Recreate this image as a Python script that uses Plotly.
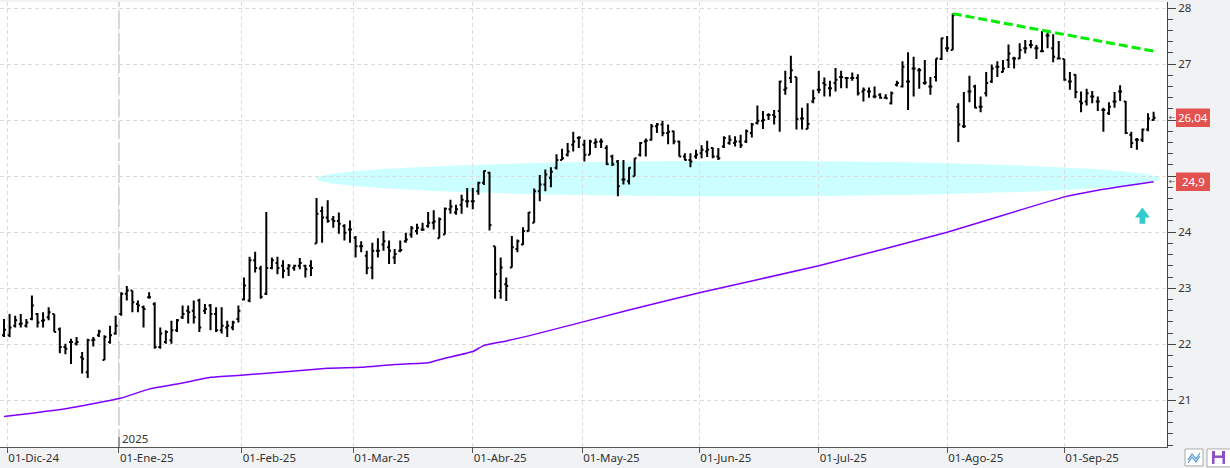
import pandas as pd
import plotly.graph_objects as go

# ---------------- data ----------------
holidays = ["2024-12-25", "2024-12-26", "2025-01-01", "2025-04-18", "2025-04-21", "2025-05-01"]
dates = [d.strftime("%Y-%m-%d") for d in
         pd.bdate_range("2024-11-29", "2025-09-23", freq="C", holidays=holidays)]

open_ = [
    22.16, 22.16, 22.33, 22.36, 22.33, 22.45, 22.54, 22.42, 22.48, 22.54,
    22.27, 21.95, 22.04, 22.01, 21.77, 21.50, 22.07, 22.16, 21.72, 22.04,
    22.19, 22.54, 22.90, 22.96, 22.72, 22.66, 22.84, 22.72, 21.95, 22.04,
    22.07, 22.25, 22.48, 22.60, 22.60, 22.78, 22.60, 22.69, 22.54, 22.25,
    22.30, 22.30, 22.45, 22.80, 22.78, 23.50, 23.35, 22.90, 23.36, 23.45,
    23.40, 23.35, 23.36, 23.40, 23.40, 23.40, 23.80, 24.38, 24.26, 24.23,
    24.20, 24.11, 24.05, 23.90, 23.75, 23.58, 23.37, 23.67, 23.78, 23.73,
    23.55, 23.67, 23.84, 23.96, 24.02, 24.05, 24.11, 24.17, 23.89, 23.96,
    24.41, 24.35, 24.49, 24.55, 24.55, 24.73, 24.88, 25.06, 23.75, 22.95,
    23.07, 23.37, 23.70, 23.78, 24.02, 24.17, 24.73, 24.85, 24.97, 25.15,
    25.29, 25.38, 25.56, 25.68, 25.56, 25.38, 25.59, 25.62, 25.50, 25.35,
    25.26, 24.94, 24.91, 25.00, 25.38, 25.62, 25.65, 25.89, 25.92, 25.77,
    25.80, 25.62, 25.35, 25.29, 25.35, 25.41, 25.44, 25.50, 25.35, 25.53,
    25.59, 25.59, 25.62, 25.62, 25.77, 25.95, 25.99, 26.09, 26.09, 26.16,
    26.54, 26.75, 26.77, 26.03, 25.84, 26.33, 26.54, 26.66, 26.57, 26.66,
    26.77, 26.75, 26.75, 26.75, 26.51, 26.51, 26.42, 26.45, 26.40, 26.30,
    26.63, 26.60, 26.69, 26.92, 26.89, 26.66, 26.60, 26.77, 27.09, 27.28,
    27.25, 26.24, 25.89, 26.51, 26.60, 26.24, 26.48, 26.69, 26.95, 26.86,
    27.07, 27.10, 27.10, 27.28, 27.34, 27.28, 27.23, 27.51, 27.28, 27.10,
    27.09, 26.69, 26.81, 26.33, 26.33, 26.42, 26.33, 26.18, 26.12, 26.33,
    26.51, 26.33, 25.74, 25.65, 25.65, 25.83, 26.00,
]
high = [
    22.45, 22.54, 22.51, 22.54, 22.45, 22.87, 22.56, 22.57, 22.66, 22.54,
    22.30, 22.01, 22.10, 22.13, 21.86, 22.10, 22.13, 22.26, 22.16, 22.33,
    22.51, 22.93, 23.04, 22.96, 22.78, 22.69, 22.93, 22.75, 22.30, 22.25,
    22.42, 22.45, 22.69, 22.69, 22.78, 22.81, 22.72, 22.72, 22.66, 22.66,
    22.42, 22.42, 22.69, 23.19, 23.56, 23.65, 23.40, 24.36, 23.55, 23.56,
    23.50, 23.43, 23.42, 23.54, 23.42, 23.50, 24.61, 24.46, 24.57, 24.29,
    24.35, 24.14, 24.21, 23.93, 23.84, 23.67, 23.81, 23.89, 24.02, 23.85,
    23.70, 23.85, 23.99, 24.11, 24.15, 24.17, 24.36, 24.39, 24.26, 24.44,
    24.58, 24.49, 24.67, 24.79, 24.79, 24.90, 25.10, 25.08, 23.75, 23.55,
    23.19, 23.93, 23.87, 24.09, 24.36, 24.78, 25.02, 25.12, 25.16, 25.39,
    25.49, 25.59, 25.79, 25.71, 25.65, 25.65, 25.67, 25.67, 25.55, 25.38,
    25.29, 25.29, 25.16, 25.32, 25.61, 25.67, 25.93, 25.95, 25.99, 25.92,
    25.81, 25.63, 25.41, 25.41, 25.47, 25.55, 25.63, 25.51, 25.50, 25.71,
    25.73, 25.71, 25.74, 25.83, 25.95, 26.26, 26.16, 26.12, 26.18, 26.70,
    26.88, 27.15, 26.77, 26.22, 26.30, 26.54, 26.88, 26.76, 26.70, 26.93,
    26.88, 26.76, 26.85, 26.82, 26.58, 26.58, 26.60, 26.48, 26.46, 26.51,
    26.70, 27.05, 27.21, 27.13, 26.93, 27.07, 26.77, 27.10, 27.47, 27.50,
    27.90, 26.30, 26.50, 26.79, 26.63, 26.42, 26.86, 26.99, 27.05, 27.07,
    27.35, 27.13, 27.37, 27.43, 27.43, 27.34, 27.59, 27.56, 27.53, 27.41,
    27.09, 26.86, 26.82, 26.51, 26.56, 26.52, 26.42, 26.22, 26.32, 26.50,
    26.62, 26.34, 25.79, 25.68, 25.85, 26.12, 26.15,
]
low = [
    22.13, 22.13, 22.30, 22.30, 22.30, 22.43, 22.30, 22.30, 22.43, 22.22,
    21.84, 21.82, 21.65, 21.98, 21.48, 21.40, 21.96, 22.13, 21.72, 22.01,
    22.17, 22.51, 22.78, 22.57, 22.57, 22.30, 22.81, 21.92, 21.92, 22.01,
    22.01, 22.22, 22.45, 22.37, 22.37, 22.22, 22.54, 22.25, 22.22, 22.19,
    22.13, 22.25, 22.39, 22.78, 22.75, 23.28, 22.81, 22.88, 23.34, 23.25,
    23.18, 23.22, 23.31, 23.34, 23.19, 23.22, 23.80, 23.81, 24.17, 24.08,
    23.97, 23.85, 23.81, 23.55, 23.64, 23.25, 23.16, 23.55, 23.67, 23.43,
    23.43, 23.64, 23.81, 23.90, 23.96, 24.02, 24.08, 24.05, 23.89, 23.96,
    24.33, 24.31, 24.33, 24.44, 24.41, 24.67, 24.84, 24.03, 22.81, 22.81,
    22.77, 23.37, 23.64, 23.77, 24.01, 24.17, 24.55, 24.73, 24.80, 25.12,
    25.29, 25.35, 25.44, 25.50, 25.26, 25.38, 25.50, 25.50, 25.20, 25.18,
    24.64, 24.85, 24.85, 25.00, 25.35, 25.35, 25.63, 25.77, 25.71, 25.57,
    25.57, 25.35, 25.28, 25.16, 25.31, 25.32, 25.34, 25.32, 25.29, 25.50,
    25.56, 25.53, 25.50, 25.59, 25.69, 25.92, 25.84, 26.00, 25.92, 25.79,
    26.45, 26.66, 25.83, 25.83, 25.84, 26.30, 26.48, 26.42, 26.42, 26.51,
    26.57, 26.57, 26.70, 26.44, 26.33, 26.40, 26.39, 26.38, 26.38, 26.28,
    26.60, 26.58, 26.18, 26.42, 26.56, 26.63, 26.45, 26.69, 27.07, 27.22,
    27.25, 25.61, 25.86, 26.32, 26.21, 26.14, 26.42, 26.66, 26.77, 26.85,
    26.93, 26.92, 27.09, 27.19, 27.28, 27.09, 27.21, 27.28, 27.03, 27.09,
    26.70, 26.54, 26.39, 26.14, 26.26, 26.30, 26.16, 25.79, 26.09, 26.22,
    26.34, 25.75, 25.50, 25.47, 25.61, 25.80, 25.99,
]
close = [
    22.26, 22.30, 22.43, 22.37, 22.39, 22.69, 22.39, 22.43, 22.57, 22.22,
    21.95, 21.92, 22.04, 22.04, 21.74, 22.07, 22.08, 22.23, 22.13, 22.16,
    22.33, 22.90, 22.96, 22.75, 22.69, 22.63, 22.84, 21.95, 22.19, 22.22,
    22.25, 22.43, 22.54, 22.57, 22.48, 22.30, 22.63, 22.54, 22.25, 22.33,
    22.33, 22.39, 22.60, 23.05, 23.50, 23.36, 22.85, 23.36, 23.50, 23.36,
    23.31, 23.40, 23.40, 23.45, 23.34, 23.36, 24.33, 24.26, 24.20, 24.20,
    24.15, 23.99, 24.05, 23.75, 23.75, 23.36, 23.67, 23.67, 23.84, 23.67,
    23.61, 23.68, 23.87, 24.07, 24.08, 24.05, 24.17, 24.19, 24.23, 24.42,
    24.46, 24.41, 24.58, 24.55, 24.55, 24.88, 25.09, 24.13, 23.25, 23.37,
    23.04, 23.73, 23.84, 24.02, 24.35, 24.73, 24.85, 25.03, 25.08, 25.29,
    25.32, 25.44, 25.62, 25.69, 25.38, 25.62, 25.61, 25.62, 25.21, 25.21,
    24.82, 24.94, 25.15, 25.32, 25.59, 25.63, 25.89, 25.92, 25.77, 25.79,
    25.62, 25.35, 25.29, 25.26, 25.38, 25.47, 25.47, 25.35, 25.32, 25.68,
    25.65, 25.62, 25.55, 25.80, 25.92, 25.99, 26.00, 26.09, 26.06, 26.69,
    26.57, 26.89, 26.02, 26.03, 25.93, 26.39, 26.54, 26.63, 26.57, 26.72,
    26.77, 26.75, 26.75, 26.48, 26.54, 26.51, 26.42, 26.40, 26.39, 26.48,
    26.66, 26.95, 26.69, 26.92, 26.89, 26.67, 26.60, 27.10, 27.46, 27.28,
    27.87, 25.92, 25.89, 26.51, 26.22, 26.24, 26.66, 26.92, 26.95, 26.92,
    27.19, 27.10, 27.25, 27.28, 27.34, 27.28, 27.23, 27.51, 27.13, 27.10,
    26.72, 26.69, 26.50, 26.30, 26.48, 26.42, 26.33, 26.18, 26.24, 26.33,
    26.51, 25.77, 25.59, 25.65, 25.83, 26.03, 26.04,
]

# 200-session moving average, read at sample dates
ma_dates = ["2024-11-29", "2024-12-16", "2025-01-02", "2025-01-09", "2025-01-17",
            "2025-01-24", "2025-02-03", "2025-02-24", "2025-03-04", "2025-03-12",
            "2025-03-20", "2025-03-25", "2025-04-01", "2025-04-03", "2025-04-09",
            "2025-04-15", "2025-05-14", "2025-06-02", "2025-07-01", "2025-08-01",
            "2025-09-01", "2025-09-09", "2025-09-23"]
ma_values = [20.71, 20.85, 21.04, 21.20, 21.31, 21.41, 21.45, 21.57, 21.59, 21.64,
             21.67, 21.75, 21.87, 21.98, 22.06, 22.15, 22.61, 22.93, 23.40, 24.00,
             24.63, 24.75, 24.90]

trend_dates = ["2025-08-04", "2025-09-23"]
trend_values = [27.90, 27.23]

month_starts = ["2024-12-01", "2025-01-01", "2025-02-01", "2025-03-01", "2025-04-01",
                "2025-05-01", "2025-06-01", "2025-07-01", "2025-08-01", "2025-09-01"]
month_labels = ["01-Dic-24", "01-Ene-25", "01-Feb-25", "01-Mar-25", "01-Abr-25",
                "01-May-25", "01-Jun-25", "01-Jul-25", "01-Ago-25", "01-Sep-25"]
year_label = "2025"
y_ticks = [21, 22, 23, 24, 25, 26, 27, 28]
# labels 25 and 26 sit under the price boxes in the reference
y_tick_text = ["21", "22", "23", "24", "", "", "27", "28"]

# ---------------- helpers ----------------
pos = {d: i for i, d in enumerate(dates)}
xi = list(range(len(dates)))


def month_pos(m):
    i = next(k for k, d in enumerate(dates) if d >= m)
    return i if dates[i] == m else i - 0.4


tick_pos = [month_pos(m) for m in month_starts]

FONT = "Noto Sans, DejaVu Sans, sans-serif"
PLOT_W, PLOT_H = 1167, 447
X_RANGE = [-0.72, 208.4]
Y_RANGE = [20.167, 28.107]

fig = go.Figure()

fig.add_trace(go.Ohlc(
    x=xi, open=open_, high=high, low=low, close=close,
    increasing=dict(line=dict(color="#000000", width=2)),
    decreasing=dict(line=dict(color="#000000", width=2)),
    tickwidth=0.35, hoverinfo="skip", showlegend=False,
))

fig.add_trace(go.Scatter(
    x=[pos[d] for d in ma_dates], y=ma_values, mode="lines",
    line=dict(color="#8000ff", width=1.5, shape="spline", smoothing=0.4),
    hoverinfo="skip", showlegend=False,
))

fig.add_trace(go.Scatter(
    x=[pos[d] for d in trend_dates], y=trend_values, mode="lines",
    line=dict(color="#00ee00", width=3, dash="9px,4px"),
    hoverinfo="skip", showlegend=False,
))

shapes = []
# cyan zone ellipse
shapes.append(dict(type="circle", xref="x", yref="y", x0=56.0, x1=207.2, y0=24.64, y1=25.27,
                   fillcolor="#ccffff", line=dict(width=0), layer="below"))
# year separator line
jan = tick_pos[1]
shapes.append(dict(type="line", xref="x", yref="paper", x0=jan, x1=jan, y0=0, y1=1,
                   line=dict(color="#c8c8c8", width=1.5, dash="18px,4px"), layer="below"))
shapes.append(dict(type="line", xref="x", yref="paper", x0=jan, x1=jan, y0=0, y1=10 / PLOT_H,
                   line=dict(color="#555555", width=1)))
# cyan arrow
ax_c, tip, base, bot = 204.0, 24.44, 24.26, 24.15
hw, sw = 1.34, 0.52
shapes.append(dict(type="path", xref="x", yref="y",
                   path=(f"M {ax_c},{tip} L {ax_c + hw},{base} L {ax_c + sw},{base} "
                         f"L {ax_c + sw},{bot} L {ax_c - sw},{bot} L {ax_c - sw},{base} "
                         f"L {ax_c - hw},{base} Z"),
                   fillcolor="#33cccc", line=dict(width=0)))


def px_x(p):
    return p / PLOT_W


def px_y(p):
    return (PLOT_H - p) / PLOT_H


annotations = []
# price labels
for val, txt in [(close[-1], f"{close[-1]:.2f}".replace(".", ",")),
                 (ma_values[-1], f"{ma_values[-1]:.1f}".replace(".", ","))]:
    shapes.append(dict(type="rect", xref="paper", yref="y", x0=px_x(1176), x1=px_x(1210),
                       y0=val - 0.165, y1=val + 0.165, fillcolor="#e2534f",
                       line=dict(width=0), layer="above"))
    annotations.append(dict(xref="paper", yref="y", x=px_x(1193), y=val, text=txt,
                            showarrow=False, xanchor="center", yanchor="middle",
                            font=dict(family=FONT, size=11.5, color="#ffffff")))
    annotations.append(dict(xref="paper", yref="y", x=px_x(1172), y=val, text="←",
                            showarrow=False, xanchor="center", yanchor="middle",
                            font=dict(family="DejaVu Sans", size=8, color="#555555")))

annotations.append(dict(xref="x", yref="paper", x=jan, y=px_y(438), text=year_label,
                        showarrow=False, xanchor="left", yanchor="middle", xshift=1,
                        font=dict(family=FONT, size=11.5, color="#333333")))

# bottom-right buttons
shapes.append(dict(type="rect", xref="paper", yref="paper", x0=px_x(1185), x1=px_x(1203),
                   y0=px_y(449), y1=px_y(466), fillcolor="#ffffff",
                   line=dict(color="#aaaaaa", width=1)))
for dy in (0, 3):
    shapes.append(dict(type="path", xref="paper", yref="paper",
                       path=(f"M {px_x(1188)},{px_y(460 + dy)} L {px_x(1192)},{px_y(454 + dy)} "
                             f"L {px_x(1196)},{px_y(459 + dy)} L {px_x(1200)},{px_y(453 + dy)}"),
                       line=dict(color="#5b9bd5", width=1.2)))
shapes.append(dict(type="rect", xref="paper", yref="paper", x0=px_x(1207), x1=px_x(1231),
                   y0=px_y(449), y1=px_y(467), fillcolor="#ffffff",
                   line=dict(color="#aaaaaa", width=1)))
shapes.append(dict(type="rect", xref="paper", yref="paper", x0=px_x(1212), x1=px_x(1225),
                   y0=px_y(451), y1=px_y(464), fillcolor="#8e4fc6", line=dict(width=0)))
shapes.append(dict(type="rect", xref="paper", yref="paper", x0=px_x(1215), x1=px_x(1222),
                   y0=px_y(451), y1=px_y(455.5), fillcolor="#ffffff", line=dict(width=0)))
shapes.append(dict(type="rect", xref="paper", yref="paper", x0=px_x(1214.5), x1=px_x(1222.5),
                   y0=px_y(458), y1=px_y(464), fillcolor="#ffffff", line=dict(width=0)))

fig.update_layout(
    width=1230, height=468, autosize=False,
    margin=dict(l=0, r=1230 - PLOT_W, t=0, b=468 - PLOT_H, pad=0),
    paper_bgcolor="#f1f2f4", plot_bgcolor="#ffffff",
    showlegend=False, hovermode=False,
    font=dict(family=FONT, size=11.5, color="#333333"),
    shapes=shapes, annotations=annotations,
    xaxis=dict(
        type="linear", range=X_RANGE, rangeslider=dict(visible=False),
        tickmode="array", tickvals=tick_pos, ticktext=month_labels,
        ticks="outside", ticklen=5, tickcolor="#555555",
        ticklabelposition="outside right", ticklabeloverflow="allow",
        showgrid=True, gridcolor="#dcdcdc", griddash="4px,3px", gridwidth=1,
        showline=True, linecolor="#555555", linewidth=1, zeroline=False,
        tickfont=dict(family=FONT, size=11.5, color="#333333"),
        fixedrange=True,
    ),
    yaxis=dict(
        side="right", range=Y_RANGE, tickmode="array", tickvals=y_ticks,
        ticktext=y_tick_text, ticklabeloverflow="allow",
        ticks="outside", ticklen=8, tickcolor="#444444",
        minor=dict(tickmode="linear", tick0=20, dtick=0.2, ticks="outside",
                   ticklen=5, tickcolor="#444444", showgrid=False),
        showgrid=True, gridcolor="#dcdcdc", griddash="4px,3px", gridwidth=1,
        showline=True, linecolor="#444444", linewidth=1, zeroline=False,
        tickfont=dict(family=FONT, size=11.5, color="#333333"),
        fixedrange=True,
    ),
)

fig.write_html("out.html", config={"displayModeBar": False})
